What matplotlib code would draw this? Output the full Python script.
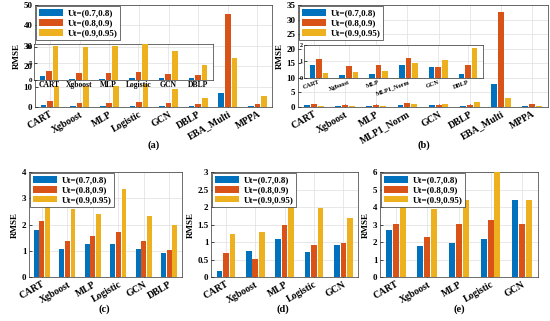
import numpy as np
import matplotlib.pyplot as plt

plt.rcParams['font.family'] = ['Liberation Serif', 'DejaVu Serif']
plt.rcParams['font.weight'] = 'bold'

colors = ['#0072BD', '#D95319', '#EDB120']
series = ['Ut=(0.7,0.8)', 'Ut=(0.8,0.9)', 'Ut=(0.9,0.95)']

# (a)
cats_a = ['CART', 'Xgboost', 'MLP', 'Logistic', 'GCN', 'DBLP', 'EBA_Multi', 'MPPA']
a_s1 = [1.1, 0.2, 0.3, 0.4, 0.6, 0.4, 7.0, 0.5]
a_s2 = [2.8, 1.9, 1.9, 2.2, 1.8, 1.5, 45.7, 1.6]
a_s3 = [10.5, 10.1, 10.4, 11.3, 8.8, 4.5, 24.2, 5.2]

# (b)
cats_b = ['CART', 'Xgboost', 'MLP', 'MLP1_Norm', 'GCN', 'DBLP', 'EBA_Multi', 'MPPA']
b_s1 = [0.75, 0.19, 0.26, 0.75, 0.67, 0.22, 8.0, 0.4]
b_s2 = [1.14, 0.69, 0.80, 1.18, 0.65, 0.77, 32.7, 1.0]
b_s3 = [0.28, 0.37, 0.43, 0.88, 1.05, 1.78, 3.1, 0.2]

# (c)
cats_c = ['CART', 'Xgboost', 'MLP', 'Logistic', 'GCN', 'DBLP']
c_s1 = [1.80, 1.05, 1.25, 1.25, 1.07, 0.90]
c_s2 = [2.12, 1.38, 1.58, 1.72, 1.37, 1.02]
c_s3 = [2.75, 2.60, 2.42, 3.35, 2.33, 1.98]

# (d)
cats_d = ['CART', 'Xgboost', 'MLP', 'Logistic', 'GCN']
d_s1 = [0.18, 0.75, 1.09, 0.72, 0.92]
d_s2 = [0.70, 0.51, 1.50, 0.92, 0.98]
d_s3 = [1.24, 1.28, 2.52, 1.97, 1.69]

# (e)
cats_e = ['CART', 'Xgboost', 'MLP', 'Logistic', 'GCN']
e_s1 = [2.70, 1.75, 1.92, 2.18, 4.38]
e_s2 = [3.05, 2.28, 3.03, 3.25, 3.02]
e_s3 = [4.30, 3.88, 4.38, 6.20, 4.38]


def bars(ax, cats, vals, fs=7, rot=30, ha='right', yfs=6.5):
    x = np.arange(len(cats))
    for i, v in enumerate(vals):
        ax.bar(x + (i - 1) * 0.22, v, 0.19, color=colors[i], label=series[i], zorder=3)
    ax.set_xlim(-0.5, len(cats) - 0.5)
    ax.set_xticks(x)
    ax.set_xticklabels(cats, rotation=rot, ha=ha, fontsize=fs, fontweight='bold',
                       rotation_mode='anchor' if rot else 'default')
    ax.grid(True, color='#dedede', lw=0.5, zorder=0)
    ax.tick_params(direction='in', length=2, width=0.5, pad=2)
    ax.tick_params(axis='y', labelsize=yfs)
    for s in ax.spines.values():
        s.set_linewidth(0.5)
        s.set_color('#333333')
    for t in ax.get_yticklabels():
        t.set_fontweight('bold')


def legend(ax):
    ax.legend(loc='upper left', prop={'weight': 'bold', 'size': 6.5},
              handlelength=2.7, handleheight=0.8, borderpad=0.3, labelspacing=0.15,
              handletextpad=0.5, framealpha=1, edgecolor='#333333',
              fancybox=False, borderaxespad=0.1).get_frame().set_linewidth(0.5)


fig = plt.figure(figsize=(5.5, 3.21), dpi=100)

ax = fig.add_axes([0.064, 0.667, 0.431, 0.317])
bars(ax, cats_a, [a_s1, a_s2, a_s3])
ax.set_ylim(0, 50)
ax.set_yticks(range(0, 51, 10))
ax.set_ylabel('RMSE', fontsize=6.5, fontweight='bold', labelpad=2)
legend(ax)
ins = fig.add_axes([0.062, 0.752, 0.325, 0.111])
bars(ins, cats_a[:6], [a_s1[:6], a_s2[:6], a_s3[:6]], fs=5.5, rot=0, ha='center', yfs=5)
ins.set_ylim(0, 11)
ins.set_yticks([0, 5, 10])
ins.tick_params(pad=1)
fig.text(0.28, 0.54, '(a)', ha='center', fontsize=7.5)

ax = fig.add_axes([0.542, 0.667, 0.454, 0.317])
bars(ax, cats_b, [b_s1, b_s2, b_s3])
ax.set_ylim(0, 35)
ax.set_yticks(range(0, 36, 5))
ax.set_ylabel('RMSE', fontsize=6.5, fontweight='bold', labelpad=2)
legend(ax)
ins = fig.add_axes([0.553, 0.757, 0.325, 0.104])
bars(ins, cats_b[:6], [b_s1[:6], b_s2[:6], b_s3[:6]], fs=4.5, rot=20, yfs=4.5)
ins.set_ylim(0, 2)
ins.set_yticks([0, 1, 2])
ins.tick_params(pad=1)
fig.text(0.77, 0.54, '(b)', ha='center', fontsize=7.5)

ax = fig.add_axes([0.053, 0.137, 0.278, 0.327])
bars(ax, cats_c, [c_s1, c_s2, c_s3])
ax.set_ylim(0, 4)
ax.set_yticks(range(0, 5))
ax.set_ylabel('RMSE', fontsize=6.5, fontweight='bold', labelpad=2)
legend(ax)
fig.text(0.19, 0.03, '(c)', ha='center', fontsize=7.5)

ax = fig.add_axes([0.384, 0.137, 0.267, 0.327])
bars(ax, cats_d, [d_s1, d_s2, d_s3])
ax.set_ylim(0, 3)
ax.set_yticks(np.arange(0, 3.01, 0.5))
ax.set_yticklabels(['0', '0.5', '1', '1.5', '2', '2.5', '3'], fontweight='bold')
ax.set_ylabel('RMSE', fontsize=6.5, fontweight='bold', labelpad=2)
legend(ax)
fig.text(0.515, 0.03, '(d)', ha='center', fontsize=7.5)

ax = fig.add_axes([0.691, 0.137, 0.287, 0.327])
bars(ax, cats_e, [e_s1, e_s2, e_s3])
ax.set_ylim(0, 6)
ax.set_yticks(range(0, 7))
ax.set_ylabel('RMSE', fontsize=6.5, fontweight='bold', labelpad=2)
legend(ax)
fig.text(0.835, 0.03, '(e)', ha='center', fontsize=7.5)

fig.savefig('out.png', dpi=100)
